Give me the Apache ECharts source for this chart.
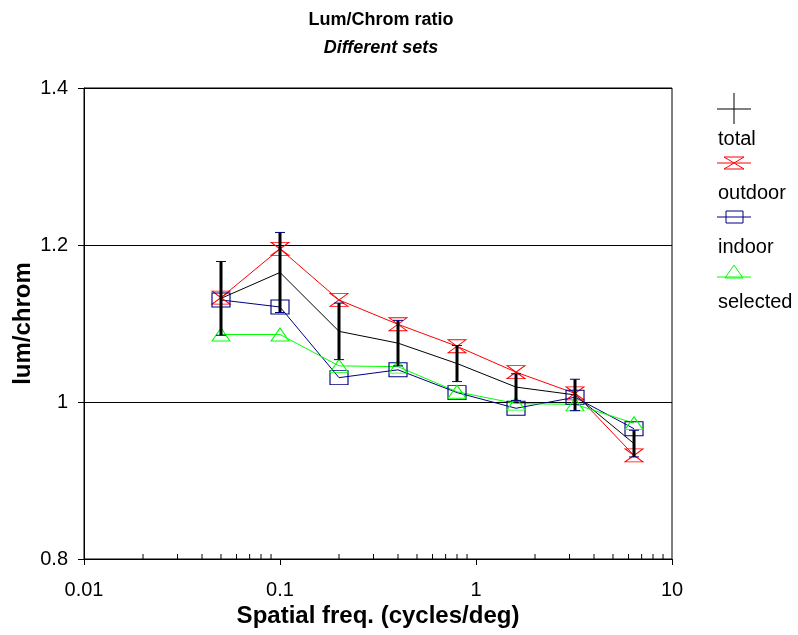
<!DOCTYPE html>
<html>
<head>
<meta charset="utf-8">
<script src="https://cdn.jsdelivr.net/npm/echarts@6/dist/echarts.min.js"></script>
<style>html,body{margin:0;padding:0;background:#fff;}#c{width:798px;height:635px;}</style>
</head>
<body>
<div id="c"></div>
<script>
// ---- data ----
const freq = [0.05, 0.1, 0.2, 0.4, 0.8, 1.6, 3.2, 6.4];
const total = [1.132, 1.165, 1.090, 1.075, 1.049, 1.019, 1.009, 0.947];
const totalErr = [0.047, 0.051, 0.036, 0.029, 0.023, 0.017, 0.020, 0.017];
const outdoor = [1.133, 1.195, 1.130, 1.099, 1.071, 1.038, 1.011, 0.932];
const indoor = [1.130, 1.121, 1.031, 1.041, 1.012, 0.992, 1.006, 0.966];
const selected = [1.086, 1.086, 1.046, 1.045, 1.013, 0.998, 0.997, 0.973];
const xTickLabels = ['0.01', '0.1', '1', '10'];
const yTickLabels = ['0.8', '1', '1.2', '1.4'];
const minorTicks = [0.02,0.03,0.04,0.05,0.06,0.07,0.08,0.09,0.2,0.3,0.4,0.5,0.6,0.7,0.8,0.9,2,3,4,5,6,7,8,9];
const legendNames = ['total', 'outdoor', 'indoor', 'selected'];

const FONT = '"Liberation Sans", Arial, sans-serif';
const pair = arr => arr.map((v, i) => [freq[i], v]);
const hourglass = 'path://M0,0 L18,0 L0,13 L18,13 Z';

const chart = echarts.init(document.getElementById('c'), null, {renderer: 'canvas'});

const option = {
  animation: false,
  backgroundColor: '#fff',
  grid: {left: 84, right: 126, top: 88, bottom: 76, containLabel: false, outerBoundsMode: 'none',
         show: true, borderColor: '#000', borderWidth: 1, backgroundColor: 'transparent'},
  xAxis: {
    type: 'log', logBase: 10, min: 0.01, max: 10,
    name: 'Spatial freq. (cycles/deg)', nameLocation: 'middle', nameGap: 45, nameMoveOverlap: false,
    nameTextStyle: {fontFamily: FONT, fontSize: 24, fontWeight: 'bold', color: '#000'},
    axisLine: {lineStyle: {color: '#000', width: 1}},
    axisTick: {show: true, inside: false, length: 6, lineStyle: {color: '#000'}},
    axisLabel: {fontFamily: FONT, fontSize: 20, color: '#000', margin: 21,
      formatter: v => { const i = Math.round(Math.log10(v)) + 2; return xTickLabels[i] !== undefined ? xTickLabels[i] : ''; }},
    splitLine: {show: false}
  },
  yAxis: {
    type: 'value', min: 0.8, max: 1.4, interval: 0.2,
    name: 'lum/chrom', nameLocation: 'middle', nameGap: 49, nameRotate: 90, nameMoveOverlap: false,
    nameTextStyle: {fontFamily: FONT, fontSize: 24, fontWeight: 'bold', color: '#000'},
    axisLine: {show: true, lineStyle: {color: '#000', width: 1}},
    axisTick: {show: true, inside: false, length: 6, lineStyle: {color: '#000'}},
    axisLabel: {fontFamily: FONT, fontSize: 20, color: '#000', margin: 16,
      formatter: v => yTickLabels[Math.round((v - 0.8) / 0.2)]},
    splitLine: {show: true, lineStyle: {color: '#000', width: 1}}
  },
  series: [
    {
      name: 'minor', type: 'custom', silent: true, z: 1,
      data: minorTicks.map(v => [v, 0.8]),
      renderItem: (params, api) => {
        const p = api.coord([api.value(0), api.value(1)]);
        return {type: 'line', shape: {x1: p[0], y1: p[1], x2: p[0], y2: p[1] - 5}, style: {stroke: '#000', lineWidth: 1}};
      }
    },
    {
      name: 'total', type: 'line', data: pair(total), symbol: 'none', z: 3,
      lineStyle: {color: '#000', width: 1}
    },
    {
      name: 'outdoor', type: 'line', data: pair(outdoor), z: 4,
      symbol: hourglass, symbolSize: [18, 13], showAllSymbol: true,
      lineStyle: {color: '#ff0000', width: 1},
      itemStyle: {color: 'rgba(0,0,0,0)', borderColor: '#ff0000', borderWidth: 1}
    },
    {
      name: 'indoor', type: 'line', data: pair(indoor), z: 4,
      symbol: 'rect', symbolSize: [18, 14], showAllSymbol: true,
      lineStyle: {color: '#000080', width: 1},
      itemStyle: {color: 'rgba(0,0,0,0)', borderColor: '#000080', borderWidth: 1}
    },
    {
      name: 'selected', type: 'line', data: pair(selected), z: 4,
      symbol: 'triangle', symbolSize: [18, 13], showAllSymbol: true,
      lineStyle: {color: '#00ff00', width: 1},
      itemStyle: {color: 'rgba(0,0,0,0)', borderColor: '#00ff00', borderWidth: 1}
    },
    {
      name: 'err', type: 'custom', z: 6, silent: true,
      data: total.map((v, i) => [freq[i], v - totalErr[i], v + totalErr[i]]),
      renderItem: (params, api) => {
        const lo = api.coord([api.value(0), api.value(1)]);
        const hi = api.coord([api.value(0), api.value(2)]);
        return {type: 'group', children: [
          {type: 'line', shape: {x1: lo[0], y1: lo[1], x2: hi[0], y2: hi[1]}, style: {stroke: '#000', lineWidth: 3}},
          {type: 'line', shape: {x1: hi[0] - 5, y1: hi[1], x2: hi[0] + 5, y2: hi[1]}, style: {stroke: '#000080', lineWidth: 1}},
          {type: 'line', shape: {x1: lo[0] - 5, y1: lo[1], x2: lo[0] + 5, y2: lo[1]}, style: {stroke: '#000080', lineWidth: 1}}
        ]};
      }
    }
  ],
  graphic: [
    {type: 'text', x: 381, y: 11, style: {text: 'Lum/Chrom ratio', fill: '#000', font: 'bold 18px ' + FONT, align: 'center', verticalAlign: 'top'}},
    {type: 'text', x: 381, y: 39, style: {text: 'Different sets', fill: '#000', font: 'italic bold 18px ' + FONT, align: 'center', verticalAlign: 'top'}},
    // legend: total
    {type: 'line', shape: {x1: 717, y1: 109, x2: 751, y2: 109}, style: {stroke: '#000', lineWidth: 1}},
    {type: 'line', shape: {x1: 734, y1: 93, x2: 734, y2: 124}, style: {stroke: '#000', lineWidth: 1}},
    {type: 'text', x: 718, y: 139, style: {text: legendNames[0], fill: '#000', font: '20px ' + FONT, verticalAlign: 'middle'}},
    // outdoor
    {type: 'line', shape: {x1: 717, y1: 163, x2: 751, y2: 163}, style: {stroke: '#ff0000', lineWidth: 1}},
    {type: 'polygon', shape: {points: [[724, 157], [744, 157], [724, 169], [744, 169]]}, style: {stroke: '#ff0000', fill: 'none', lineWidth: 1}},
    {type: 'text', x: 718, y: 193, style: {text: legendNames[1], fill: '#000', font: '20px ' + FONT, verticalAlign: 'middle'}},
    // indoor
    {type: 'line', shape: {x1: 717, y1: 217, x2: 751, y2: 217}, style: {stroke: '#000080', lineWidth: 1}},
    {type: 'rect', shape: {x: 726, y: 211, width: 17, height: 12}, style: {stroke: '#000080', fill: 'none', lineWidth: 1}},
    {type: 'text', x: 718, y: 247, style: {text: legendNames[2], fill: '#000', font: '20px ' + FONT, verticalAlign: 'middle'}},
    // selected
    {type: 'line', shape: {x1: 717, y1: 277, x2: 751, y2: 277}, style: {stroke: '#00ff00', lineWidth: 1}},
    {type: 'polygon', shape: {points: [[734, 265], [743, 278], [725, 278]]}, style: {stroke: '#00ff00', fill: 'none', lineWidth: 1}},
    {type: 'text', x: 718, y: 302, style: {text: legendNames[3], fill: '#000', font: '20px ' + FONT, verticalAlign: 'middle'}}
  ]
};
chart.setOption(option);
</script>
</body>
</html>
